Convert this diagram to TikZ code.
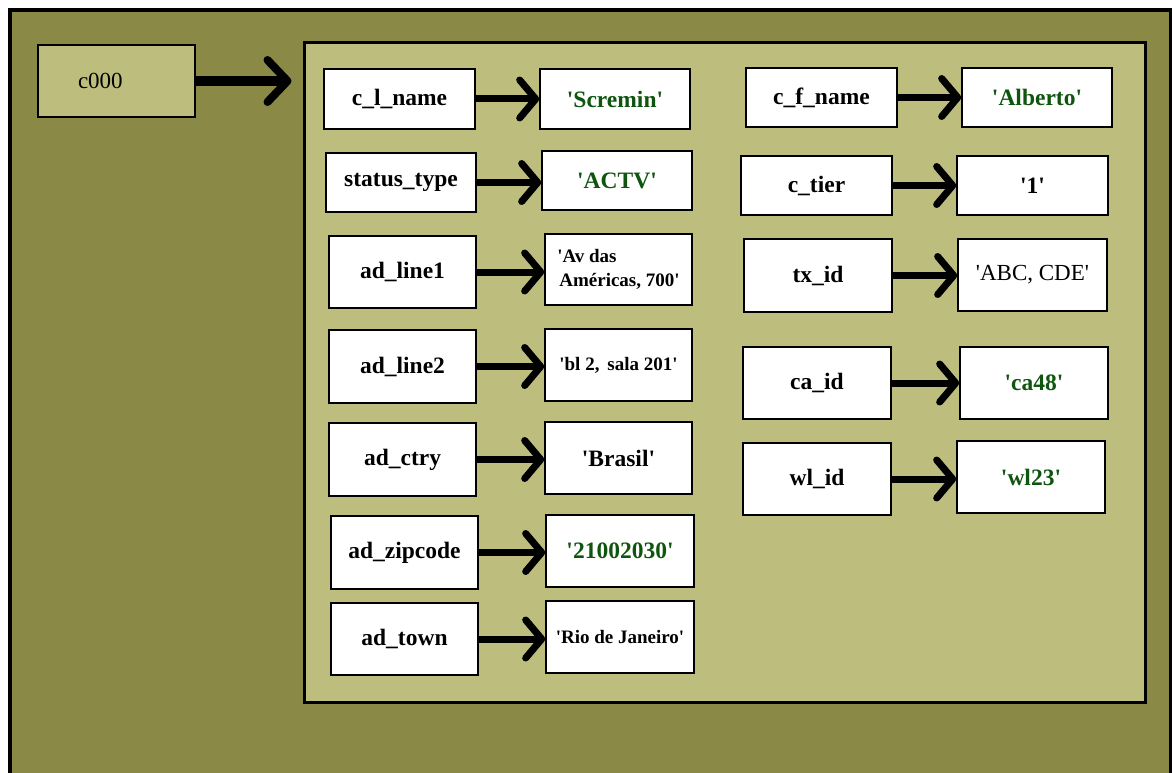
\documentclass[tikz,border=0pt]{standalone}
\usepackage{fontspec}
\setmainfont{Liberation Serif}
\usetikzlibrary{arrows.meta}

\definecolor{outerolive}{RGB}{138,137,70}
\definecolor{innerolive}{RGB}{189,189,125}
\definecolor{valgreen}{RGB}{15,85,15}
\newcommand{\quoted}[1]{\textquotesingle#1\textquotesingle}

\begin{document}
\begin{tikzpicture}[x=1pt, y=-1pt,
    key/.style={draw, fill=white, line width=1.6pt, inner sep=0pt,
                minimum width=148, minimum height=72,
                font=\fontsize{23.5}{26}\selectfont\bfseries},
    val/.style={key},
    small/.style={font=\fontsize{19}{24}\selectfont\bfseries, align=left},
    link/.style={line width=7pt, -{Straight Barb[length=16pt, width=38pt, line width=7pt, round]}},
    biglink/.style={line width=10pt, -{Straight Barb[length=20pt, width=42pt, line width=8pt, round]}}]
    \useasboundingbox (0,0) rectangle (1172,773);
    \fill[white] (0,0) rectangle (1172,773);
    \draw[line width=4pt, fill=outerolive] (10,10) rectangle (1171,800);

    \node[draw, fill=innerolive, line width=3pt, minimum width=841, minimum height=659, inner sep=0pt] (rec) at (724.5,372.5) {};
    \node[draw, fill=innerolive, line width=2pt, minimum width=157, minimum height=72, inner xsep=40pt, inner ysep=0pt,
          text width=77, align=left, font=\fontsize{23}{26}\selectfont] (cust) at (116.5,81) {c000};
    \draw[biglink, shorten >=11pt] (cust.east) -- (cust.east -| rec.west);

    % left column
    \node[key, minimum width=151, minimum height=60] (lname) at (399.5,99) {c\_l\_name};
    \node[val, minimum width=150, minimum height=60, text=valgreen] (lnamev) at (615,99) {\quoted{Scremin}};
    \node[key, minimum width=150, minimum height=59] (status) at (401,182.5) {status\_type};
    \node[val, minimum width=150, minimum height=59, text=valgreen] (statusv) at (617,180.5) {\quoted{ACTV}};
    \node[key, minimum width=147, minimum height=72] (line1) at (402.5,272) {ad\_line1};
    \node[val, minimum width=147, minimum height=71, small] (line1v) at (618.5,269.5) {\quoted{Av das\\\hspace*{2pt}Américas, 700}};
    \node[key, minimum width=147, minimum height=73] (line2) at (402.5,366.5) {ad\_line2};
    \node[val, minimum width=147, minimum height=72, small] (line2v) at (618.5,365) {\quoted{bl 2,\, sala 201}};
    \node[key, minimum width=147, minimum height=73] (ctry) at (402.5,459.5) {ad\_ctry};
    \node[val, minimum width=147, minimum height=72] (ctryv) at (618.5,458) {\quoted{Brasil}};
    \node[key, minimum width=147, minimum height=73] (zip) at (404.5,552.5) {ad\_zipcode};
    \node[val, minimum width=148, minimum height=72, text=valgreen] (zipv) at (620,551) {\quoted{21002030}};
    \node[key, minimum width=147, minimum height=72] (town) at (404.5,639) {ad\_town};
    \node[val, minimum width=148, minimum height=72, small] (townv) at (620,637) {\quoted{Rio de Janeiro}};

    % right column
    \node[key, minimum width=151, minimum height=59] (fname) at (821.5,97.5) {c\_f\_name};
    \node[val, minimum width=150, minimum height=59, text=valgreen] (fnamev) at (1037,97.5) {\quoted{Alberto}};
    \node[key, minimum width=151, minimum height=59] (tier) at (816.5,185.5) {c\_tier};
    \node[val, minimum width=151, minimum height=59] (tierv) at (1032.5,185.5) {\quoted{1}};
    \node[key, minimum width=148, minimum height=73] (tx) at (818,275.5) {tx\_id};
    \node[val, minimum width=149, minimum height=72, font=\fontsize{23}{26}\selectfont] (txv) at (1032.5,275) {\quoted{ABC, CDE}};
    \node[key, minimum width=148, minimum height=72] (ca) at (817,383) {ca\_id};
    \node[val, minimum width=148, minimum height=72, text=valgreen] (cav) at (1034,383) {\quoted{ca48}};
    \node[key, minimum width=148, minimum height=72] (wl) at (817,479) {wl\_id};
    \node[val, minimum width=148, minimum height=72, text=valgreen] (wlv) at (1031,477) {\quoted{wl23}};

    \foreach \k in {lname,status,line1,line2,ctry,zip,town,fname,tier,tx,ca,wl}
        \draw[link] (\k.east) -- (\k.east -| \k v.west);
\end{tikzpicture}
\end{document}
